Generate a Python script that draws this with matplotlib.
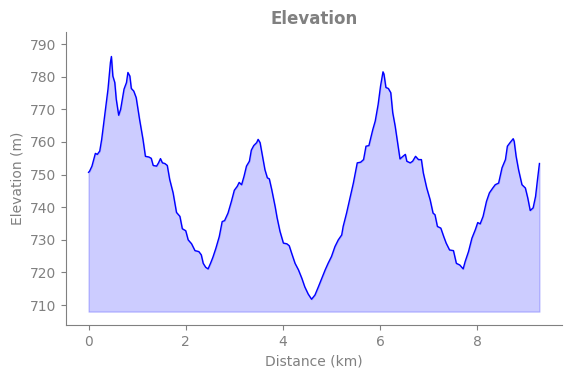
import matplotlib
matplotlib.use("Agg")
import matplotlib.pyplot as plt

# distance along the track (km) and elevation (m)
distance = [0.00, 0.02, 0.07, 0.14, 0.18, 0.23, 0.27, 0.33, 0.40, 0.45,
            0.47, 0.50, 0.54, 0.57, 0.62, 0.66, 0.73, 0.78, 0.81, 0.85,
            0.88, 0.93, 0.98, 1.05, 1.12, 1.17, 1.24, 1.29, 1.33, 1.40,
            1.44, 1.48, 1.52, 1.57, 1.62, 1.67, 1.74, 1.81, 1.88, 1.93,
            2.00, 2.05, 2.12, 2.19, 2.27, 2.32, 2.36, 2.41, 2.46, 2.51,
            2.56, 2.62, 2.69, 2.75, 2.80, 2.87, 2.94, 3.00, 3.06, 3.10,
            3.15, 3.20, 3.25, 3.31, 3.35, 3.40, 3.46, 3.49, 3.53, 3.58,
            3.63, 3.68, 3.72, 3.77, 3.84, 3.88, 3.94, 4.01, 4.08, 4.13,
            4.18, 4.25, 4.32, 4.39, 4.45, 4.52, 4.59, 4.66, 4.73, 4.80,
            4.87, 4.93, 5.00, 5.07, 5.14, 5.21, 5.24, 5.31, 5.38, 5.45,
            5.53, 5.60, 5.66, 5.71, 5.77, 5.85, 5.90, 5.96, 6.01, 6.06,
            6.08, 6.12, 6.17, 6.22, 6.26, 6.31, 6.36, 6.41, 6.47, 6.52,
            6.55, 6.62, 6.67, 6.73, 6.79, 6.85, 6.89, 6.96, 7.03, 7.09,
            7.13, 7.18, 7.25, 7.31, 7.36, 7.43, 7.51, 7.57, 7.64, 7.71,
            7.75, 7.82, 7.89, 7.96, 8.01, 8.06, 8.12, 8.19, 8.25, 8.32,
            8.37, 8.44, 8.51, 8.58, 8.62, 8.68, 8.74, 8.76, 8.80, 8.85,
            8.92, 8.99, 9.04, 9.09, 9.15, 9.20, 9.24, 9.28]
elevation = [750.7, 751.0, 752.6, 756.5, 756.2, 757.2, 760.8, 767.9, 776.2, 784.4,
             786.2, 780.2, 778.2, 773.1, 768.2, 770.0, 776.2, 778.2, 781.3, 780.2,
             776.4, 775.6, 773.6, 766.9, 760.8, 755.6, 755.4, 755.0, 752.8, 752.6,
             753.6, 754.9, 753.6, 753.4, 752.8, 748.5, 744.4, 738.4, 737.2, 733.4,
             732.8, 730.0, 728.8, 726.7, 726.4, 725.4, 722.8, 721.6, 721.1, 722.8,
             724.7, 727.4, 731.0, 735.6, 735.9, 738.2, 741.8, 745.2, 746.4, 747.6,
             746.9, 749.5, 752.6, 754.1, 757.5, 758.9, 759.8, 760.8, 759.8, 755.6,
             751.5, 749.0, 748.7, 745.4, 740.2, 736.8, 732.6, 729.0, 728.8, 728.2,
             725.9, 722.8, 720.8, 718.2, 715.6, 713.4, 711.8, 713.1, 715.6, 718.2,
             720.8, 722.8, 724.9, 727.9, 730.0, 731.5, 734.1, 738.2, 742.8, 747.4,
             753.6, 753.8, 754.6, 758.7, 758.9, 763.8, 766.4, 771.5, 777.2, 781.5,
             780.8, 776.7, 776.4, 775.1, 769.0, 764.9, 759.8, 754.8, 755.6, 756.2,
             754.1, 753.6, 754.1, 755.6, 754.6, 754.6, 750.5, 745.9, 742.3, 738.2,
             737.7, 734.1, 733.6, 731.0, 729.0, 726.9, 726.7, 722.8, 722.3, 721.1,
             723.3, 726.4, 730.5, 733.1, 735.3, 734.9, 737.2, 741.8, 744.4, 745.9,
             746.9, 747.4, 752.1, 754.6, 758.7, 759.9, 761.0, 760.2, 755.6, 751.5,
             746.9, 745.9, 742.8, 739.0, 739.8, 743.3, 748.5, 753.4]
fill_base = 708

grey = "#808080"

fig = plt.figure(figsize=(5.71, 3.78), dpi=100)
ax = fig.add_axes([0.1156, 0.1402, 0.8686, 0.7751])

ax.fill_between(distance, elevation, fill_base, color="blue", alpha=0.2)
ax.plot(distance, elevation, color="blue", linewidth=1)

ax.set_ylim(703.9, 793.7)
ax.set_xticks([0, 2, 4, 6, 8])
ax.set_yticks(range(710, 791, 10))

ax.set_title("Elevation", fontsize=12, fontweight="bold", color=grey)
ax.set_xlabel("Distance (km)", fontsize=10, color=grey)
ax.set_ylabel("Elevation (m)", fontsize=10, color=grey)

for side in ["top", "right"]:
    ax.spines[side].set_visible(False)
for side in ["left", "bottom"]:
    ax.spines[side].set_color(grey)
ax.tick_params(colors=grey, labelsize=10)

fig.savefig("out.png", dpi=100)
